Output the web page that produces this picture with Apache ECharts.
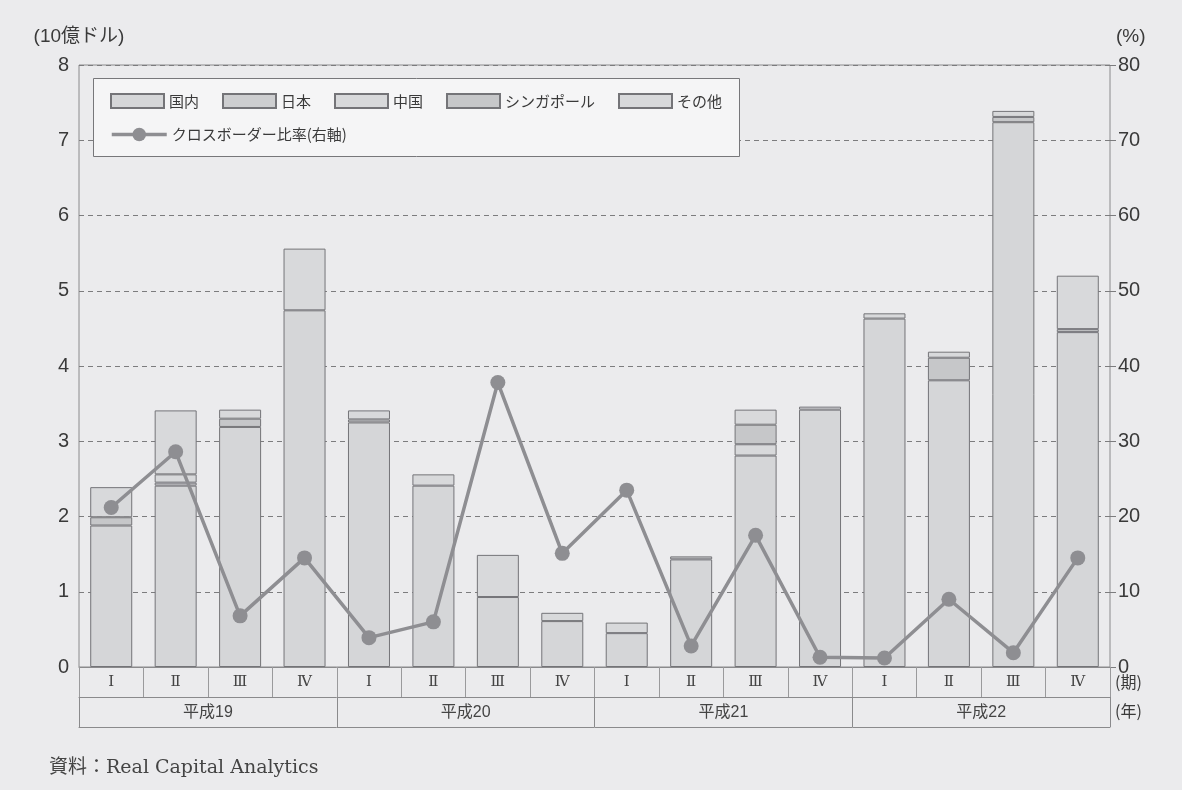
<!DOCTYPE html>
<html>
<head>
<meta charset="utf-8">
<script src="https://cdn.jsdelivr.net/npm/echarts@6/dist/echarts.min.js"></script>
<style>
  html, body { margin: 0; padding: 0; background: #ebebed; }
  #chart { width: 1182px; height: 790px; }
</style>
</head>
<body>
<div id="chart"></div>
<script>
// Quarter and fiscal-year categories
const quarters = ['Ⅰ', 'Ⅱ', 'Ⅲ', 'Ⅳ', 'Ⅰ', 'Ⅱ', 'Ⅲ', 'Ⅳ', 'Ⅰ', 'Ⅱ', 'Ⅲ', 'Ⅳ', 'Ⅰ', 'Ⅱ', 'Ⅲ', 'Ⅳ'];
const years = ['平成19', '平成20', '平成21', '平成22'];

// Investment volume by buyer origin (10億ドル), null = no segment
const domestic  = [1.88, 2.41, 3.19, 4.74, 3.25, 2.41, 0.93, 0.61, 0.45, 1.43, 2.81, 3.42, 4.63, 3.81, 7.24, 4.45];
const japan     = [null, 0.04, null, null, null, null, null, null, null, null, null, null, null, null, null, null];
const china     = [null, 0.11, null, null, null, null, null, null, null, null, 0.15, null, null, null, null, null];
const singapore = [0.11, null, 0.11, null, 0.04, null, null, null, null, 0.04, 0.26, null, null, 0.30, 0.07, 0.04];
const others    = [0.40, 0.85, 0.12, 0.82, 0.12, 0.15, 0.56, 0.11, 0.14, null, 0.20, 0.04, 0.07, 0.08, 0.08, 0.71];

// Cross-border share (%), right axis
const crossBorder = [21.2, 28.6, 6.8, 14.5, 3.9, 6.0, 37.8, 15.1, 23.5, 2.8, 17.5, 1.3, 1.2, 9.0, 1.9, 14.5];

const leftTicks = { min: 0, max: 8, interval: 1 };
const rightTicks = { min: 0, max: 80, interval: 10 };

const SANS = '"Liberation Sans", "Noto Sans CJK JP", sans-serif';
const CJK = '"Noto Sans CJK JP", sans-serif';
const TXT = '#3a3a3a';
const EDGE = '#8a8a8c';
const BAR_EDGE = '#747478';
const LINE = '#8e8e92';

function barSeries(name, data, fill) {
  return {
    name, type: 'bar', stack: 'total', data,
    barWidth: 42,
    xAxisIndex: 0, yAxisIndex: 0,
    itemStyle: { color: fill, borderColor: BAR_EDGE, borderWidth: 1 },
    emphasis: { disabled: true }
  };
}

const chart = echarts.init(document.getElementById('chart'), null, { renderer: 'canvas' });

chart.setOption({
  backgroundColor: '#ebebed',
  animation: false,
  grid: {
    left: 79, right: 72, top: 65, bottom: 123,
    show: true, borderColor: EDGE, borderWidth: 1, backgroundColor: 'transparent'
  },
  legend: [
    {
      data: ['国内', '日本', '中国', 'シンガポール', 'その他'],
      left: 110, top: 93, padding: 0,
      icon: 'rect',
      itemWidth: 53, itemHeight: 14, itemGap: 23,
      textStyle: { fontFamily: CJK, fontSize: 15, color: TXT },
      selectedMode: false, z: 20
    },
    {
      data: ['クロスボーダー比率(右軸)'],
      left: 110, top: 127, padding: 0,
      itemWidth: 55, itemHeight: 17,
      lineStyle: { width: 3.5, color: LINE },
      itemStyle: { color: LINE },
      textStyle: { fontFamily: CJK, fontSize: 15, color: TXT },
      selectedMode: false, z: 20
    }
  ],
  xAxis: [
    {
      type: 'category', data: quarters, position: 'bottom', gridIndex: 0,
      axisLine: { onZero: false, lineStyle: { color: EDGE, width: 1 } },
      axisTick: { show: true, length: 30, interval: 0, lineStyle: { color: '#9a9a9c' } },
      axisLabel: { interval: 0, margin: 8, fontFamily: '"DejaVu Serif", serif', fontSize: 15, color: '#444' },
      splitLine: { show: false }
    },
    {
      type: 'category', data: years, position: 'bottom', offset: 30, gridIndex: 0,
      axisLine: { onZero: false, lineStyle: { color: EDGE, width: 1 } },
      axisTick: { show: true, length: 30, interval: 0, lineStyle: { color: EDGE } },
      axisLabel: { interval: 0, margin: 8, fontFamily: SANS, fontSize: 16, color: '#444' },
      splitLine: { show: false }
    },
    {
      type: 'category', data: years, position: 'bottom', offset: 60, gridIndex: 0,
      axisLine: { onZero: false, lineStyle: { color: EDGE, width: 1 } },
      axisTick: { show: false }, axisLabel: { show: false }, splitLine: { show: false }
    }
  ],
  yAxis: [
    {
      type: 'value', ...leftTicks, position: 'left',
      name: '(10億ドル)', nameLocation: 'end', nameGap: 19,
      nameTextStyle: { fontFamily: SANS, fontSize: 19, color: TXT, align: 'center' },
      axisLine: { show: false }, axisTick: { show: false },
      axisLabel: { margin: 10, fontFamily: SANS, fontSize: 20, color: TXT },
      splitLine: { show: true, lineStyle: { color: '#7c7c7e', type: [5, 4], width: 1 } }
    },
    {
      type: 'value', ...rightTicks, position: 'right',
      name: '(%)', nameLocation: 'end', nameGap: 19,
      nameTextStyle: { fontFamily: SANS, fontSize: 19, color: TXT, align: 'left', padding: [0, 0, 0, 6] },
      axisLine: { show: false },
      axisTick: { show: true, length: 6, lineStyle: { color: '#7c7c7e' } },
      axisLabel: { margin: 8, fontFamily: SANS, fontSize: 20, color: TXT },
      splitLine: { show: false }
    }
  ],
  graphic: [
    {
      type: 'rect', z: 10,
      shape: { x: 93.5, y: 78.5, width: 646, height: 78 },
      style: { fill: '#f5f5f6', stroke: '#77777a', lineWidth: 1 }
    },
    {
      type: 'text', left: 1115, top: 674, z: 10,
      style: { text: '(期)', font: '16px ' + CJK, fill: TXT }
    },
    {
      type: 'text', left: 1115, top: 703, z: 10,
      style: { text: '(年)', font: '16px ' + CJK, fill: TXT }
    },
    {
      type: 'text', left: 49, top: 759, z: 10,
      style: { text: '資料：Real Capital Analytics', font: '19px "DejaVu Serif", "Noto Sans CJK JP", serif', fill: '#444' }
    }
  ],
  series: [
    barSeries('国内', domestic, '#d5d6d8'),
    barSeries('日本', japan, '#cdced0'),
    barSeries('中国', china, '#d8d9db'),
    barSeries('シンガポール', singapore, '#c6c7c9'),
    barSeries('その他', others, '#d8d9db'),
    {
      name: 'クロスボーダー比率(右軸)', type: 'line', data: crossBorder,
      xAxisIndex: 0, yAxisIndex: 1, z: 5,
      symbol: 'circle', symbolSize: 15,
      lineStyle: { color: LINE, width: 3.5 },
      itemStyle: { color: LINE },
      emphasis: { disabled: true }
    }
  ]
});
</script>
</body>
</html>
